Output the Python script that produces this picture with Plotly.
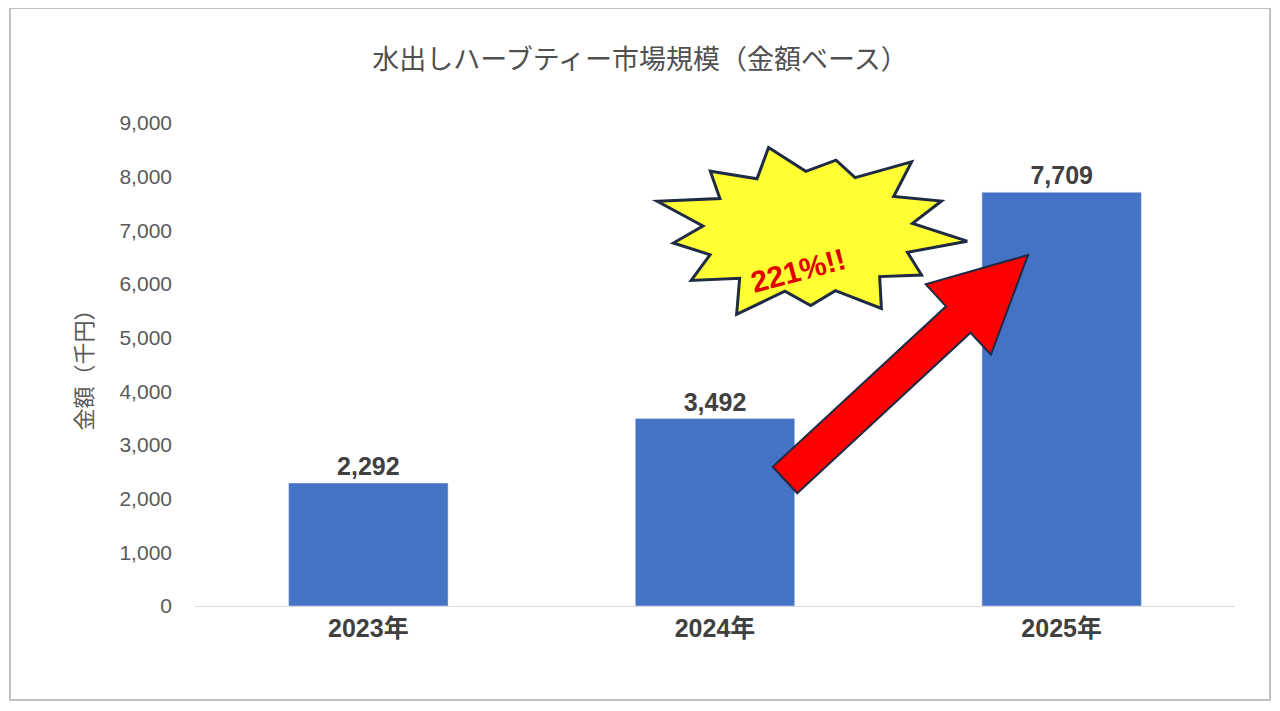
import math
import plotly.graph_objects as go

years = ["2023年", "2024年", "2025年"]
amounts = [2292, 3492, 7709]
y_ticks = list(range(0, 9001, 1000))

OFF = 8  # page body margin
W, H = 1280 - 2 * OFF, 711 - 2 * OFF
L, R, T, B = 195 - OFF, 45 - OFF, 123 - OFF, 105 - OFF
PW, PH = W - L - R, H - T - B


def px(x, y):
    # screen pixel position -> paper coords
    x, y = x - OFF, y - OFF
    return (x - L) / PW, 1 - (y - T) / PH


def path(points):
    pts = [px(x, y) for x, y in points]
    return "M " + " L ".join(f"{a:.4f},{b:.4f}" for a, b in pts) + " Z"


fig = go.Figure()
fig.add_trace(go.Bar(
    x=years, y=amounts, marker_color="#4472C4", width=0.46,
    text=[f"<b>{v:,}</b>" for v in amounts], textposition="outside",
    textfont=dict(size=25, color="#404040", family="Liberation Sans"),
    cliponaxis=False, hoverinfo="x+y",
))

# red arrow
tx, ty, hx, hy = 785, 480, 1028, 255
ang = math.atan2(hy - ty, hx - tx)
ux, uy = math.cos(ang), math.sin(ang)
nx, ny = -uy, ux
sw, hw, hl = 18, 48, 95
bx, by = hx - ux * hl, hy - uy * hl
arrow = [(tx + nx * sw, ty + ny * sw), (bx + nx * sw, by + ny * sw), (bx + nx * hw, by + ny * hw),
         (hx, hy), (bx - nx * hw, by - ny * hw), (bx - nx * sw, by - ny * sw), (tx - nx * sw, ty - ny * sw)]

# starburst
cx, cy = 808, 232
star = []
spikes = 13
outer = [1.0, 0.85, 0.95, 0.8, 1.0, 0.9, 0.85, 1.0, 0.9, 0.95, 0.8, 1.0, 0.9]
for i in range(spikes * 2):
    a = math.pi * i / spikes + 0.1
    r = outer[i // 2] if i % 2 == 0 else 0.66
    star.append((cx + 160 * r * math.cos(a), cy + 92 * r * math.sin(a)))

fig.update_layout(
    width=W, height=H, margin=dict(l=L, r=R, t=T, b=B),
    paper_bgcolor="white", plot_bgcolor="white", showlegend=False,
    font=dict(family="Noto Sans CJK JP", color="#595959"),
    title=dict(text="水出しハーブティー市場規模（金額ベース）", x=0.5, y=0.94,
               xanchor="center", font=dict(size=27, color="#505050")),
    xaxis=dict(showline=True, linecolor="#D9D9D9", ticks="",
               tickfont=dict(size=25, color="#404040", family="Liberation Sans, Noto Sans CJK JP"),
               tickprefix="<b>", ticksuffix="</b>"),
    yaxis=dict(range=[0, 9000], tickvals=y_ticks, tickformat=",", showgrid=False,
               ticklabelstandoff=22,
               tickfont=dict(size=21, color="#595959", family="Liberation Sans"),
               title=dict(text="金額（千円）", font=dict(size=22, color="#595959"), standoff=20)),
    shapes=[
        dict(type="rect", xref="paper", yref="paper", x0=px(10, 8)[0], y0=px(10, 8)[1],
             x1=px(1270, 700)[0], y1=px(1270, 700)[1], line=dict(color="#BFBFBF", width=2)),
        dict(type="path", xref="paper", yref="paper", path=path(arrow),
             fillcolor="#FF0000", line=dict(color="#1F2A44", width=2)),
        dict(type="path", xref="paper", yref="paper", path=path(star),
             fillcolor="#FFFF33", line=dict(color="#1F2A44", width=3)),
    ],
    annotations=[dict(text="<b>221%!!</b>", xref="paper", yref="paper",
                      x=px(cx - 10, cy + 8)[0], y=px(cx - 10, cy + 8)[1], showarrow=False,
                      textangle=-15, font=dict(size=30, color="#E00000", family="Liberation Sans"))],
)

fig.write_html("out.html")
